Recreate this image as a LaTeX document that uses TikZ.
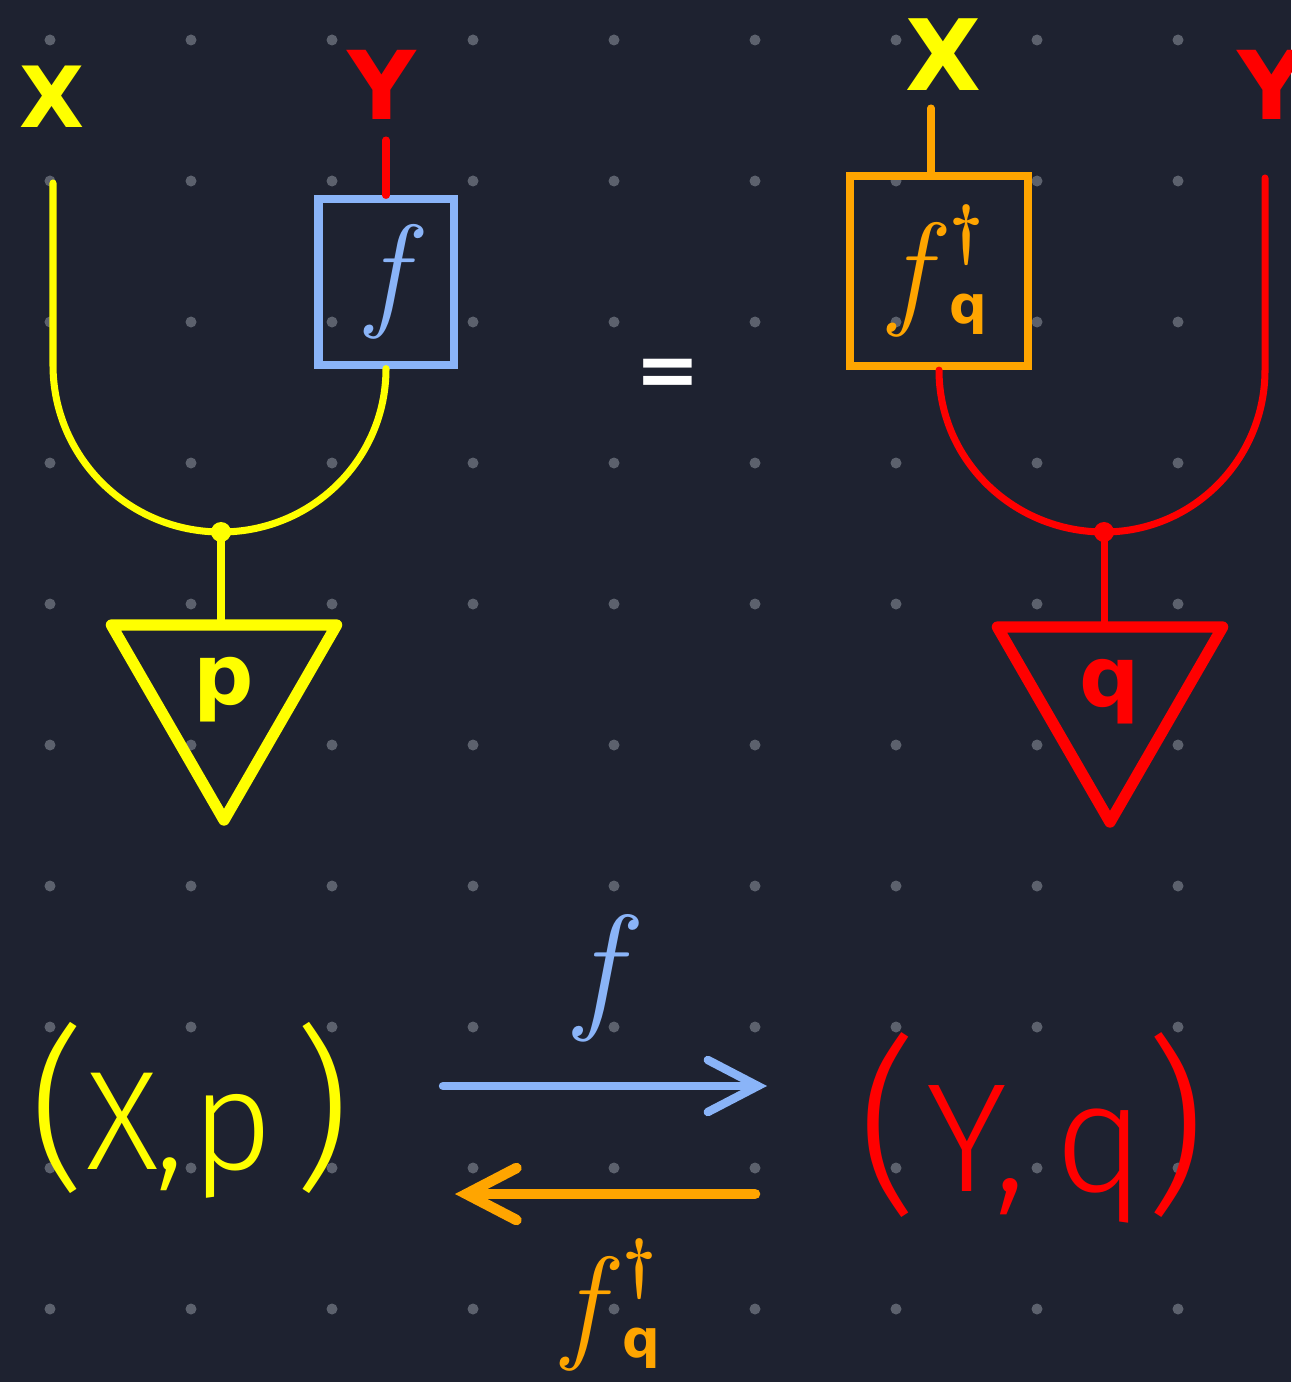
\documentclass[tikz,border=0pt]{standalone}
\usepackage{fontspec}
\setmainfont{DejaVu Sans}
\newfontfamily\lmfont{Latin Modern Roman}
\newfontfamily\thinfont{Fira Sans Light}
\usetikzlibrary{arrows.meta,positioning,shapes.geometric,calc}

\definecolor{bgnavy}{HTML}{1E2230}
\definecolor{griddot}{HTML}{5C616D}
\definecolor{wireyellow}{HTML}{FFFF00}
\definecolor{wirered}{HTML}{FF0000}
\definecolor{mapblue}{HTML}{8AB4F8}
\definecolor{maporange}{HTML}{FFA500}

\newcommand{\scriptf}[1]{{\lmfont\itshape\fontsize{#1}{#1}\selectfont f}}
\newcommand{\fdagq}{\scriptf{36}\kern6pt\rlap{\raisebox{17pt}{\lmfont\bfseries\fontsize{19}{19}\selectfont †}}\raisebox{-3.5pt}{\bfseries\fontsize{15}{15}\selectfont q}}
\newcommand{\bigparen}[2]{{\fontsize{#1}{#1}\selectfont #2}}

\begin{document}
\begin{tikzpicture}[x=0.01cm, y=-0.01cm,
  wire/.style={line width=2pt, line cap=round},
  box/.style={rectangle, draw, line width=2.3pt, inner sep=0pt},
  statetri/.style={regular polygon, regular polygon sides=3, shape border rotate=180, draw, line width=3.2pt, line join=round, minimum size=2.6cm, inner sep=0pt, font=\bfseries\fontsize{24}{24}\selectfont},
  junction/.style={circle, inner sep=0pt, minimum size=0.2cm},
  wirelabel/.style={inner sep=0pt, font=\bfseries\fontsize{24}{24}\selectfont},
  pair/.style={inner sep=0pt, font=\thinfont\fontsize{40}{40}\selectfont},
  maparrow/.style={line cap=round, -{Straight Barb[length=0.5cm, width=0.52cm, line cap=round]}}]

  \useasboundingbox (0,0) rectangle (1291,1382);
  \fill[bgnavy] (0,0) rectangle (1291,1382);
  \foreach \i in {0,...,8}
    \foreach \j in {0,...,9}
      \fill[griddot] (50+141*\i, 40+141*\j) circle (0.055cm);

  % left: (X,p) with f
  \node [wirelabel, text=wireyellow] (xl) at (52,97) {X};
  \node [wirelabel, text=wirered, font=\bfseries\fontsize{27}{27}\selectfont] (yl) at (382,85) {Y};
  \node [box, draw=mapblue, text=mapblue, minimum width=1.35cm, minimum height=1.65cm] (fbox) at (386,282) {\scriptf{36}};
  \node [statetri, draw=wireyellow, text=wireyellow] (ptri) at (224,690) {p};
  \node [junction, fill=wireyellow] (pjunc) at (221,532) {};
  \coordinate (xtop) at (53,183);
  \coordinate (xbend) at (53,365);
  \coordinate (ytop) at (386,140);

  \draw [wire, wireyellow] (xtop) -- (xbend) to[out=-90, in=180] (pjunc.center) to[out=0, in=-90] (fbox.south);
  \draw [wire, wirered] (ytop) -- (ytop |- fbox.north);
  \draw [wire, wireyellow] (pjunc.center) -- (pjunc.center |- ptri.side 2);

  \node [text=white, font=\bfseries\fontsize{22}{22}\selectfont] (eq) at (668,378) {=};

  % right: (Y,q) with f dagger
  \node [wirelabel, text=wireyellow, font=\bfseries\fontsize{28}{28}\selectfont] (xr) at (943,55) {X};
  \node [wirelabel, text=wirered, font=\bfseries\fontsize{27}{27}\selectfont] (yr) at (1272,85) {Y};
  \node [box, draw=maporange, text=maporange, minimum width=1.78cm, minimum height=1.9cm] (fdbox) at (939,271) {\fdagq};
  \node [statetri, draw=wirered, text=wirered] (qtri) at (1110,692) {q};
  \node [junction, fill=wirered] (qjunc) at (1104,532) {};
  \coordinate (xrtop) at (931,108);
  \coordinate (yrbend) at (1265,370);
  \coordinate (yrtop) at (1265,178);

  \draw [wire, maporange] (xrtop) -- (xrtop |- fdbox.north);
  \draw [wire, wirered] (fdbox.south) to[out=-90, in=180] (qjunc.center) to[out=0, in=-90] (yrbend) -- (yrtop);
  \draw [wire, wirered] (qjunc.center) -- (qjunc.center |- qtri.side 2);

  % bottom: the two maps
  \node [pair, text=wireyellow] (xp) at (190,1110) {\bigparen{50}{(}X\kern-1pt,\kern2pt p\kern6pt\bigparen{50}{)}};
  \node [pair, text=wirered, font=\thinfont\fontsize{44}{44}\selectfont] (yq) at (1032,1128) {\bigparen{54}{(}\kern2pt Y,\kern8pt q\bigparen{54}{)}};
  \coordinate (fstart) at (443,1086);
  \coordinate (fend) at (767,1086);
  \coordinate (gstart) at (755,1194);
  \coordinate (gend) at (455,1194);
  \node [text=mapblue, inner sep=0pt] (flab) at (598,978) {\scriptf{40}};
  \node [text=maporange, inner sep=0pt] (glab) at (612,1305) {\fdagq};

  \draw [maparrow, mapblue, line width=2.4pt] (fstart) -- (fend);
  \draw [maparrow, maporange, line width=3pt] (gstart) -- (gend);
\end{tikzpicture}
\end{document}
